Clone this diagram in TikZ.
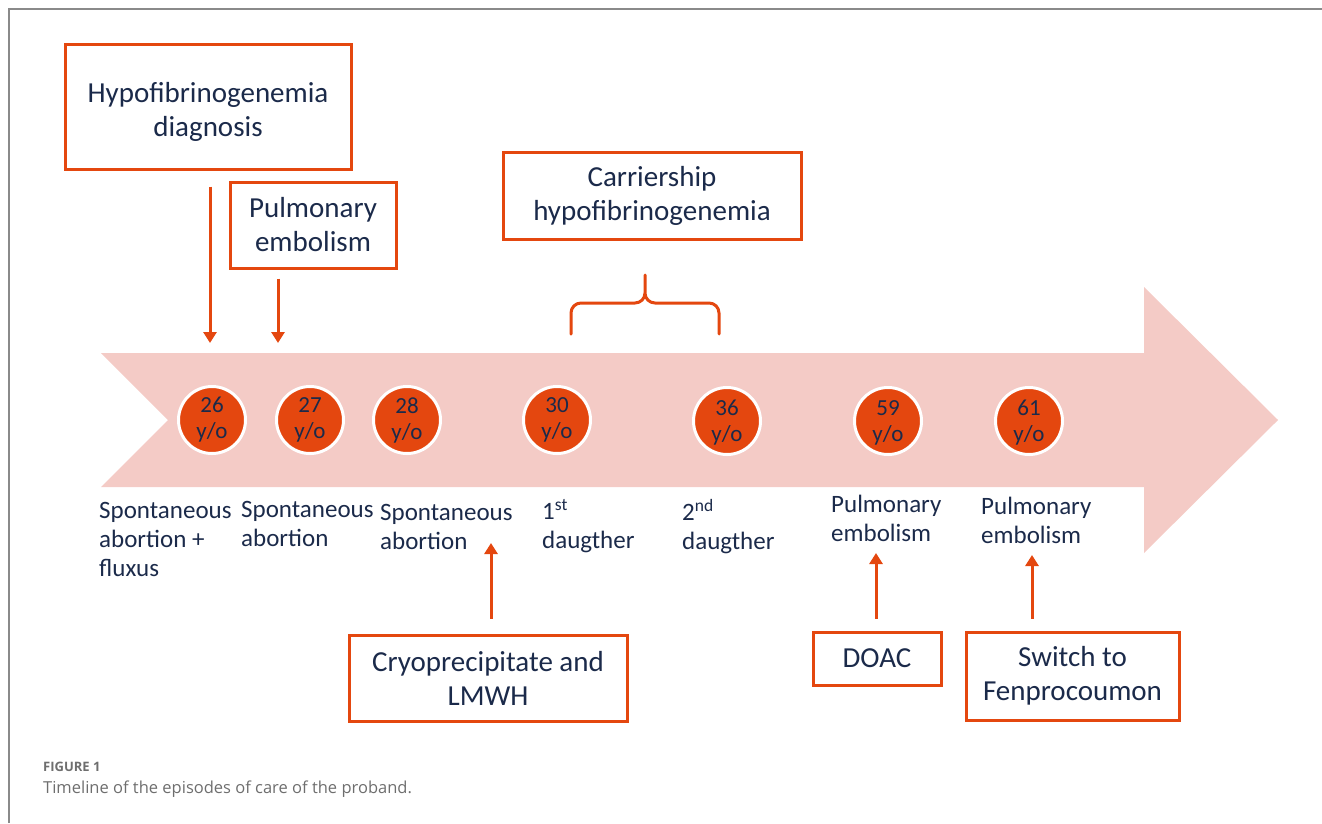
\documentclass[tikz,border=0pt]{standalone}
\usepackage{fontspec}
\setmainfont{Carlito}
\newfontfamily\capfont{Open Sans}
\usetikzlibrary{arrows.meta}
\definecolor{navy}{HTML}{1B2A4A}
\definecolor{orng}{HTML}{E4470F}
\definecolor{pinkbg}{HTML}{F4CBC6}
\definecolor{framegray}{HTML}{8A8A8A}
\definecolor{capgray}{HTML}{6E6E6E}
\tikzset{
  box/.style={draw=orng, line width=3pt, fill=white, align=center, text=navy, inner sep=0pt,
    font=\fontsize{29}{34}\selectfont},
  age/.style={circle, fill=orng, draw=white, line width=3pt, minimum size=67pt, inner sep=0pt},
  agetxt/.style={align=center, text=navy, font=\fontsize{23}{26}\selectfont, inner sep=0pt},
  lbl/.style={anchor=north west, align=left, text=navy, inner sep=0pt, font=\fontsize{25}{29}\selectfont},
  arr/.style={draw=orng, line width=3pt, -{Triangle[width=13pt,length=11pt]}},
}
\begin{document}
\begin{tikzpicture}[x=1pt,y=-1pt]
\useasboundingbox (0,0) rectangle (1322,823);
% frame
\draw[framegray, line width=1.5pt] (9,823) -- (9,9) -- (1322,9);
% big arrow
\fill[pinkbg] (101,353) -- (1144,353) -- (1144,287) -- (1278,420) -- (1144,553) -- (1144,487) -- (101,487) -- (168,420) -- cycle;
% circles
\node[age] (c26) at (212,420) {};
\node[age] (c27) at (310,420) {};
\node[age] (c28) at (407,420) {};
\node[age] (c30) at (557,420) {};
\node[age] (c36) at (727,421) {};
\node[age] (c59) at (888,421) {};
\node[age] (c61) at (1029,421) {};
\node[agetxt] at (c26) {26\\y/o};
\node[agetxt] at (c27) {27\\y/o};
\node[agetxt] at (c28) {28\\y/o};
\node[agetxt] at (c30) {30\\y/o};
\node[agetxt] at ([yshift=-2pt]c36.center) {36\\y/o};
\node[agetxt] at ([yshift=-2pt]c59.center) {59\\y/o};
\node[agetxt] at ([yshift=-2pt]c61.center) {61\\y/o};
% boxes
\node[box, minimum width=286pt, minimum height=125pt] (hd) at (208,106.5) {\rule{0pt}{30pt}Hypofibrinogenemia\\diagnosis};
\node[box, minimum width=166pt, minimum height=86pt] (pe) at (313,225) {Pulmonary\\embolism};
\node[box, minimum width=298pt, minimum height=87pt] (carr) at (652,195.5) {Carriership\\hypofibrinogenemia};
\node[box, minimum width=278pt, minimum height=86pt] (cryo) at (488,678) {Cryoprecipitate and\\LMWH};
\node[box, minimum width=128pt, minimum height=53pt] (doac) at (877,658.5) {DOAC};
\node[box, minimum width=213pt, minimum height=88pt] (sw) at (1072.5,676) {Switch to\\Fenprocoumon};
% labels
\node[lbl] (l26) at (99,502) {Spontaneous\\abortion +\\fluxus};
\node[lbl] (l27) at (241,501) {Spontaneous\\abortion};
\node[lbl] (l28) at (380,504) {Spontaneous\\abortion};
\node[lbl] (l30) at (542,499) {1\textsuperscript{st}\\daugther};
\node[lbl] (l36) at (682,499) {2\textsuperscript{nd}\\daugther};
\node[lbl] (l59) at (831,495) {Pulmonary\\embolism};
\node[lbl] (l61) at (981,497) {Pulmonary\\embolism};
% arrows
\coordinate (t26) at (210,343);
\coordinate (t27) at (278,343);
\coordinate (u28) at (491,543);
\coordinate (u59) at (876,553);
\coordinate (u61) at (1032,555);
\draw[arr, shorten <=16pt] (hd.south -| t26) -- (t26);
\draw[arr, shorten <=9pt] (pe.south -| t27) -- (t27);
\draw[arr, shorten <=15pt] (cryo.north -| u28) -- (u28);
\draw[arr, shorten <=12pt] (doac.north -| u59) -- (u59);
\draw[arr, shorten <=12pt] (sw.north -| u61) -- (u61);
% brace
\coordinate (bl) at (571,334);
\coordinate (bm) at (645,275);
\coordinate (br) at (719,334);
\draw[orng, line width=3pt, line cap=round]
  (bl) -- (571,313) to[out=90,in=180] (581,303) -- (635,303) to[out=0,in=-90] (645,293) -- (bm)
  (645,293) to[out=-90,in=180] (655,303) -- (709,303) to[out=0,in=90] (719,313) -- (br);
% caption
\node[anchor=base west, inner sep=0pt, text=capgray, font=\capfont\bfseries\fontsize{13}{15}\selectfont] (fig) at (43,771) {FIGURE 1};
\node[anchor=base west, inner sep=0pt, text=capgray, font=\capfont\fontsize{16.5}{19}\selectfont] (cap) at (43,793) {Timeline of the episodes of care of the proband.};
\end{tikzpicture}
\end{document}
